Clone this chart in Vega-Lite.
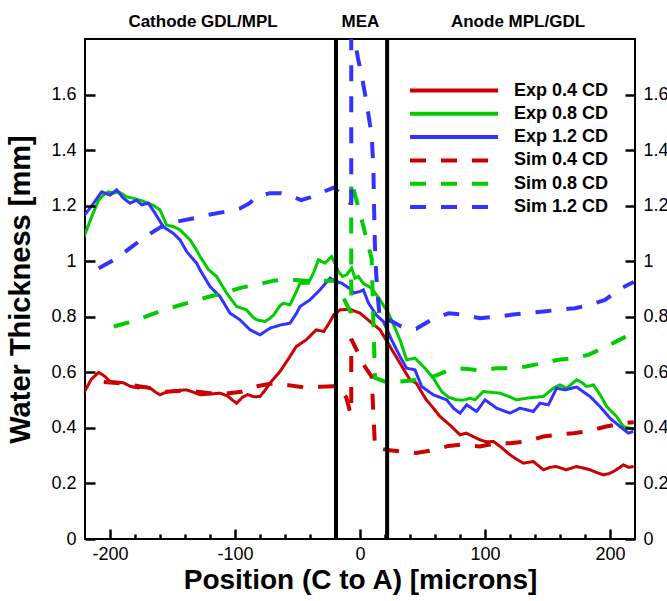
{
  "$schema": "https://vega.github.io/schema/vega-lite/v6.json",
  "width": 550,
  "height": 500,
  "autosize": {"type": "none"},
  "padding": {"left": 85, "top": 39, "right": 32, "bottom": 62},
  "background": "white",
  "config": {
    "font": "Liberation Sans",
    "view": {"stroke": "black", "strokeWidth": 2},
    "axis": {
      "grid": false, "domain": false, "labelFont": "Liberation Sans", "labelFontSize": 18,
      "labelColor": "black", "labelFlush": false,
      "labelOverlap": false, "titleFont": "Liberation Sans", "titleFontWeight": "bold", "titleColor": "black"
    },
    "legend": {
      "orient": "none", "legendX": 323, "legendY": 40, "title": null,
      "symbolType": "stroke", "symbolSize": 7744, "symbolStrokeWidth": 4,
      "labelFont": "Liberation Sans", "labelFontWeight": "bold", "labelFontSize": 18, "labelColor": "black",
      "labelOffset": 14, "clipHeight": 23, "rowPadding": 0.3
    }
  },
  "datasets": {
    "exp": [
      {"series":"Exp 0.4 CD","position":-221,"thickness":0.525},{"series":"Exp 0.4 CD","position":-215,"thickness":0.575},{"series":"Exp 0.4 CD","position":-209,"thickness":0.6},{"series":"Exp 0.4 CD","position":-204,"thickness":0.585},{"series":"Exp 0.4 CD","position":-200,"thickness":0.567},{"series":"Exp 0.4 CD","position":-194,"thickness":0.565},{"series":"Exp 0.4 CD","position":-189,"thickness":0.562},{"series":"Exp 0.4 CD","position":-184,"thickness":0.55},{"series":"Exp 0.4 CD","position":-178,"thickness":0.544},{"series":"Exp 0.4 CD","position":-172,"thickness":0.548},{"series":"Exp 0.4 CD","position":-168,"thickness":0.544},{"series":"Exp 0.4 CD","position":-164,"thickness":0.53},{"series":"Exp 0.4 CD","position":-160,"thickness":0.519},{"series":"Exp 0.4 CD","position":-156,"thickness":0.527},{"series":"Exp 0.4 CD","position":-152,"thickness":0.531},{"series":"Exp 0.4 CD","position":-145,"thickness":0.535},{"series":"Exp 0.4 CD","position":-139,"thickness":0.537},{"series":"Exp 0.4 CD","position":-133,"thickness":0.528},{"series":"Exp 0.4 CD","position":-128,"thickness":0.519},{"series":"Exp 0.4 CD","position":-120,"thickness":0.522},{"series":"Exp 0.4 CD","position":-112,"thickness":0.525},{"series":"Exp 0.4 CD","position":-106,"thickness":0.515},{"series":"Exp 0.4 CD","position":-102,"thickness":0.5},{"series":"Exp 0.4 CD","position":-98.7,"thickness":0.489},{"series":"Exp 0.4 CD","position":-94,"thickness":0.51},{"series":"Exp 0.4 CD","position":-90,"thickness":0.52},{"series":"Exp 0.4 CD","position":-85,"thickness":0.512},{"series":"Exp 0.4 CD","position":-80,"thickness":0.513},{"series":"Exp 0.4 CD","position":-76,"thickness":0.535},{"series":"Exp 0.4 CD","position":-72,"thickness":0.561},{"series":"Exp 0.4 CD","position":-64,"thickness":0.603},{"series":"Exp 0.4 CD","position":-57,"thickness":0.65},{"series":"Exp 0.4 CD","position":-51,"thickness":0.693},{"series":"Exp 0.4 CD","position":-43,"thickness":0.717},{"series":"Exp 0.4 CD","position":-35,"thickness":0.753},{"series":"Exp 0.4 CD","position":-29,"thickness":0.747},{"series":"Exp 0.4 CD","position":-25,"thickness":0.775},{"series":"Exp 0.4 CD","position":-21,"thickness":0.807},{"series":"Exp 0.4 CD","position":-16,"thickness":0.825},{"series":"Exp 0.4 CD","position":-8,"thickness":0.827},{"series":"Exp 0.4 CD","position":0,"thickness":0.813},{"series":"Exp 0.4 CD","position":8,"thickness":0.783},{"series":"Exp 0.4 CD","position":16,"thickness":0.753},{"series":"Exp 0.4 CD","position":24,"thickness":0.693},{"series":"Exp 0.4 CD","position":32,"thickness":0.633},{"series":"Exp 0.4 CD","position":40,"thickness":0.573},{"series":"Exp 0.4 CD","position":45,"thickness":0.561},{"series":"Exp 0.4 CD","position":53,"thickness":0.501},{"series":"Exp 0.4 CD","position":58,"thickness":0.475},{"series":"Exp 0.4 CD","position":64,"thickness":0.441},{"series":"Exp 0.4 CD","position":72,"thickness":0.41},{"series":"Exp 0.4 CD","position":80,"thickness":0.375},{"series":"Exp 0.4 CD","position":85,"thickness":0.381},{"series":"Exp 0.4 CD","position":90,"thickness":0.37},{"series":"Exp 0.4 CD","position":96,"thickness":0.357},{"series":"Exp 0.4 CD","position":101,"thickness":0.35},{"series":"Exp 0.4 CD","position":106.7,"thickness":0.351},{"series":"Exp 0.4 CD","position":113,"thickness":0.33},{"series":"Exp 0.4 CD","position":120,"thickness":0.303},{"series":"Exp 0.4 CD","position":126,"thickness":0.285},{"series":"Exp 0.4 CD","position":130.7,"thickness":0.273},{"series":"Exp 0.4 CD","position":138.7,"thickness":0.279},{"series":"Exp 0.4 CD","position":146.7,"thickness":0.249},{"series":"Exp 0.4 CD","position":152,"thickness":0.258},{"series":"Exp 0.4 CD","position":157,"thickness":0.261},{"series":"Exp 0.4 CD","position":165,"thickness":0.249},{"series":"Exp 0.4 CD","position":173,"thickness":0.261},{"series":"Exp 0.4 CD","position":179,"thickness":0.255},{"series":"Exp 0.4 CD","position":184,"thickness":0.249},{"series":"Exp 0.4 CD","position":189,"thickness":0.24},{"series":"Exp 0.4 CD","position":194.7,"thickness":0.231},{"series":"Exp 0.4 CD","position":199,"thickness":0.235},{"series":"Exp 0.4 CD","position":202.7,"thickness":0.243},{"series":"Exp 0.4 CD","position":207,"thickness":0.255},{"series":"Exp 0.4 CD","position":210.7,"thickness":0.267},{"series":"Exp 0.4 CD","position":215,"thickness":0.258},{"series":"Exp 0.4 CD","position":219,"thickness":0.261},
      {"series":"Exp 0.8 CD","position":-221,"thickness":1.086},{"series":"Exp 0.8 CD","position":-214.7,"thickness":1.16},{"series":"Exp 0.8 CD","position":-209,"thickness":1.22},{"series":"Exp 0.8 CD","position":-205,"thickness":1.24},{"series":"Exp 0.8 CD","position":-201,"thickness":1.25},{"series":"Exp 0.8 CD","position":-197,"thickness":1.245},{"series":"Exp 0.8 CD","position":-193,"thickness":1.25},{"series":"Exp 0.8 CD","position":-186.7,"thickness":1.232},{"series":"Exp 0.8 CD","position":-181,"thickness":1.226},{"series":"Exp 0.8 CD","position":-176,"thickness":1.22},{"series":"Exp 0.8 CD","position":-170,"thickness":1.21},{"series":"Exp 0.8 CD","position":-165,"thickness":1.2},{"series":"Exp 0.8 CD","position":-160,"thickness":1.185},{"series":"Exp 0.8 CD","position":-154.7,"thickness":1.13},{"series":"Exp 0.8 CD","position":-149,"thickness":1.124},{"series":"Exp 0.8 CD","position":-144,"thickness":1.113},{"series":"Exp 0.8 CD","position":-136,"thickness":1.077},{"series":"Exp 0.8 CD","position":-130.7,"thickness":1.04},{"series":"Exp 0.8 CD","position":-128,"thickness":1.017},{"series":"Exp 0.8 CD","position":-121,"thickness":0.969},{"series":"Exp 0.8 CD","position":-114.7,"thickness":0.945},{"series":"Exp 0.8 CD","position":-106.7,"thickness":0.885},{"series":"Exp 0.8 CD","position":-98.7,"thickness":0.837},{"series":"Exp 0.8 CD","position":-94,"thickness":0.83},{"series":"Exp 0.8 CD","position":-90.7,"thickness":0.825},{"series":"Exp 0.8 CD","position":-86,"thickness":0.8},{"series":"Exp 0.8 CD","position":-82.7,"thickness":0.789},{"series":"Exp 0.8 CD","position":-76,"thickness":0.783},{"series":"Exp 0.8 CD","position":-72,"thickness":0.795},{"series":"Exp 0.8 CD","position":-69,"thickness":0.807},{"series":"Exp 0.8 CD","position":-64,"thickness":0.84},{"series":"Exp 0.8 CD","position":-61.3,"thickness":0.849},{"series":"Exp 0.8 CD","position":-56,"thickness":0.843},{"series":"Exp 0.8 CD","position":-52,"thickness":0.88},{"series":"Exp 0.8 CD","position":-48,"thickness":0.921},{"series":"Exp 0.8 CD","position":-41.3,"thickness":0.921},{"series":"Exp 0.8 CD","position":-37,"thickness":0.96},{"series":"Exp 0.8 CD","position":-33.3,"thickness":1.005},{"series":"Exp 0.8 CD","position":-28,"thickness":0.993},{"series":"Exp 0.8 CD","position":-22.7,"thickness":1.017},{"series":"Exp 0.8 CD","position":-20,"thickness":0.993},{"series":"Exp 0.8 CD","position":-17.3,"thickness":0.963},{"series":"Exp 0.8 CD","position":-14,"thickness":0.945},{"series":"Exp 0.8 CD","position":-10.7,"thickness":0.951},{"series":"Exp 0.8 CD","position":-6.7,"thickness":0.975},{"series":"Exp 0.8 CD","position":-4,"thickness":0.939},{"series":"Exp 0.8 CD","position":-1.3,"thickness":0.945},{"series":"Exp 0.8 CD","position":2.7,"thickness":0.92},{"series":"Exp 0.8 CD","position":9.3,"thickness":0.903},{"series":"Exp 0.8 CD","position":16,"thickness":0.861},{"series":"Exp 0.8 CD","position":22.7,"thickness":0.813},{"series":"Exp 0.8 CD","position":27,"thickness":0.77},{"series":"Exp 0.8 CD","position":32,"thickness":0.717},{"series":"Exp 0.8 CD","position":37.3,"thickness":0.645},{"series":"Exp 0.8 CD","position":44,"thickness":0.651},{"series":"Exp 0.8 CD","position":52,"thickness":0.615},{"series":"Exp 0.8 CD","position":58.7,"thickness":0.579},{"series":"Exp 0.8 CD","position":65.3,"thickness":0.531},{"series":"Exp 0.8 CD","position":71,"thickness":0.51},{"series":"Exp 0.8 CD","position":77.3,"thickness":0.501},{"series":"Exp 0.8 CD","position":83,"thickness":0.5},{"series":"Exp 0.8 CD","position":88,"thickness":0.507},{"series":"Exp 0.8 CD","position":92,"thickness":0.501},{"series":"Exp 0.8 CD","position":98.7,"thickness":0.531},{"series":"Exp 0.8 CD","position":105,"thickness":0.528},{"series":"Exp 0.8 CD","position":112,"thickness":0.525},{"series":"Exp 0.8 CD","position":118,"thickness":0.515},{"series":"Exp 0.8 CD","position":125.3,"thickness":0.501},{"series":"Exp 0.8 CD","position":133.3,"thickness":0.507},{"series":"Exp 0.8 CD","position":140,"thickness":0.51},{"series":"Exp 0.8 CD","position":146.7,"thickness":0.513},{"series":"Exp 0.8 CD","position":154.7,"thickness":0.543},{"series":"Exp 0.8 CD","position":160,"thickness":0.555},{"series":"Exp 0.8 CD","position":165.3,"thickness":0.543},{"series":"Exp 0.8 CD","position":173.3,"thickness":0.573},{"series":"Exp 0.8 CD","position":177,"thickness":0.565},{"series":"Exp 0.8 CD","position":181.3,"thickness":0.549},{"series":"Exp 0.8 CD","position":186.7,"thickness":0.555},{"series":"Exp 0.8 CD","position":192,"thickness":0.52},{"series":"Exp 0.8 CD","position":197.3,"thickness":0.477},{"series":"Exp 0.8 CD","position":205.3,"thickness":0.441},{"series":"Exp 0.8 CD","position":210.7,"thickness":0.405},{"series":"Exp 0.8 CD","position":216,"thickness":0.399},{"series":"Exp 0.8 CD","position":219,"thickness":0.395},
      {"series":"Exp 1.2 CD","position":-221.3,"thickness":1.16},{"series":"Exp 1.2 CD","position":-213.3,"thickness":1.208},{"series":"Exp 1.2 CD","position":-206.7,"thickness":1.25},{"series":"Exp 1.2 CD","position":-200,"thickness":1.238},{"series":"Exp 1.2 CD","position":-194.7,"thickness":1.257},{"series":"Exp 1.2 CD","position":-189.3,"thickness":1.227},{"series":"Exp 1.2 CD","position":-184,"thickness":1.209},{"series":"Exp 1.2 CD","position":-178.7,"thickness":1.22},{"series":"Exp 1.2 CD","position":-174.7,"thickness":1.203},{"series":"Exp 1.2 CD","position":-169.3,"thickness":1.209},{"series":"Exp 1.2 CD","position":-164,"thickness":1.173},{"series":"Exp 1.2 CD","position":-157.3,"thickness":1.124},{"series":"Exp 1.2 CD","position":-149.3,"thickness":1.1},{"series":"Exp 1.2 CD","position":-144,"thickness":1.077},{"series":"Exp 1.2 CD","position":-138.7,"thickness":1.035},{"series":"Exp 1.2 CD","position":-130.7,"thickness":0.993},{"series":"Exp 1.2 CD","position":-128,"thickness":0.969},{"series":"Exp 1.2 CD","position":-120,"thickness":0.909},{"series":"Exp 1.2 CD","position":-112,"thickness":0.873},{"series":"Exp 1.2 CD","position":-104,"thickness":0.813},{"series":"Exp 1.2 CD","position":-96,"thickness":0.789},{"series":"Exp 1.2 CD","position":-88,"thickness":0.753},{"series":"Exp 1.2 CD","position":-80,"thickness":0.735},{"series":"Exp 1.2 CD","position":-72,"thickness":0.759},{"series":"Exp 1.2 CD","position":-64,"thickness":0.77},{"series":"Exp 1.2 CD","position":-56,"thickness":0.777},{"series":"Exp 1.2 CD","position":-50.7,"thickness":0.813},{"series":"Exp 1.2 CD","position":-48,"thickness":0.837},{"series":"Exp 1.2 CD","position":-40,"thickness":0.861},{"series":"Exp 1.2 CD","position":-32,"thickness":0.897},{"series":"Exp 1.2 CD","position":-24,"thickness":0.939},{"series":"Exp 1.2 CD","position":-18.7,"thickness":0.927},{"series":"Exp 1.2 CD","position":-14.7,"thickness":0.921},{"series":"Exp 1.2 CD","position":-10.7,"thickness":0.909},{"series":"Exp 1.2 CD","position":-6.7,"thickness":0.897},{"series":"Exp 1.2 CD","position":-5.3,"thickness":0.885},{"series":"Exp 1.2 CD","position":0,"thickness":0.891},{"series":"Exp 1.2 CD","position":2.7,"thickness":0.897},{"series":"Exp 1.2 CD","position":6.7,"thickness":0.85},{"series":"Exp 1.2 CD","position":13.3,"thickness":0.805},{"series":"Exp 1.2 CD","position":18.7,"thickness":0.783},{"series":"Exp 1.2 CD","position":25.3,"thickness":0.717},{"series":"Exp 1.2 CD","position":32,"thickness":0.657},{"series":"Exp 1.2 CD","position":37.3,"thickness":0.615},{"series":"Exp 1.2 CD","position":44,"thickness":0.609},{"series":"Exp 1.2 CD","position":49.3,"thickness":0.549},{"series":"Exp 1.2 CD","position":58.7,"thickness":0.519},{"series":"Exp 1.2 CD","position":69.3,"thickness":0.501},{"series":"Exp 1.2 CD","position":75,"thickness":0.47},{"series":"Exp 1.2 CD","position":80,"thickness":0.453},{"series":"Exp 1.2 CD","position":85.3,"thickness":0.483},{"series":"Exp 1.2 CD","position":93.3,"thickness":0.459},{"series":"Exp 1.2 CD","position":100,"thickness":0.501},{"series":"Exp 1.2 CD","position":109.3,"thickness":0.471},{"series":"Exp 1.2 CD","position":120,"thickness":0.453},{"series":"Exp 1.2 CD","position":128,"thickness":0.471},{"series":"Exp 1.2 CD","position":138.7,"thickness":0.459},{"series":"Exp 1.2 CD","position":144,"thickness":0.489},{"series":"Exp 1.2 CD","position":150.7,"thickness":0.483},{"series":"Exp 1.2 CD","position":157.3,"thickness":0.543},{"series":"Exp 1.2 CD","position":164,"thickness":0.537},{"series":"Exp 1.2 CD","position":173.3,"thickness":0.547},{"series":"Exp 1.2 CD","position":184,"thickness":0.513},{"series":"Exp 1.2 CD","position":192,"thickness":0.477},{"series":"Exp 1.2 CD","position":200,"thickness":0.435},{"series":"Exp 1.2 CD","position":208,"thickness":0.405},{"series":"Exp 1.2 CD","position":214.7,"thickness":0.381},{"series":"Exp 1.2 CD","position":218.7,"thickness":0.387}
    ],
    "sim": [
      {"series":"Sim 0.4 CD","position":-205,"thickness":0.565},{"series":"Sim 0.4 CD","position":-190,"thickness":0.56},{"series":"Sim 0.4 CD","position":-170,"thickness":0.545},{"series":"Sim 0.4 CD","position":-155,"thickness":0.53},{"series":"Sim 0.4 CD","position":-138,"thickness":0.535},{"series":"Sim 0.4 CD","position":-120,"thickness":0.525},{"series":"Sim 0.4 CD","position":-105,"thickness":0.525},{"series":"Sim 0.4 CD","position":-95,"thickness":0.53},{"series":"Sim 0.4 CD","position":-83,"thickness":0.55},{"series":"Sim 0.4 CD","position":-70,"thickness":0.56},{"series":"Sim 0.4 CD","position":-56,"thickness":0.553},{"series":"Sim 0.4 CD","position":-44,"thickness":0.545},{"series":"Sim 0.4 CD","position":-32,"thickness":0.548},{"series":"Sim 0.4 CD","position":-19,"thickness":0.55},{"series":"Sim 0.4 CD","position":-11,"thickness":0.51},{"series":"Sim 0.4 CD","position":-7.5,"thickness":0.45},{"series":"Sim 0.4 CD","position":-7,"thickness":0.45},{"series":"Sim 0.4 CD","position":-7,"thickness":0.72},{"series":"Sim 0.4 CD","position":4,"thickness":0.62},{"series":"Sim 0.4 CD","position":9.3,"thickness":0.585},{"series":"Sim 0.4 CD","position":12,"thickness":0.33},{"series":"Sim 0.4 CD","position":22,"thickness":0.32},{"series":"Sim 0.4 CD","position":34,"thickness":0.315},{"series":"Sim 0.4 CD","position":45,"thickness":0.31},{"series":"Sim 0.4 CD","position":58.7,"thickness":0.32},{"series":"Sim 0.4 CD","position":70.7,"thickness":0.335},{"series":"Sim 0.4 CD","position":82.7,"thickness":0.34},{"series":"Sim 0.4 CD","position":96,"thickness":0.333},{"series":"Sim 0.4 CD","position":109,"thickness":0.345},{"series":"Sim 0.4 CD","position":120,"thickness":0.345},{"series":"Sim 0.4 CD","position":133,"thickness":0.351},{"series":"Sim 0.4 CD","position":146.7,"thickness":0.369},{"series":"Sim 0.4 CD","position":157,"thickness":0.375},{"series":"Sim 0.4 CD","position":170.7,"thickness":0.381},{"series":"Sim 0.4 CD","position":181,"thickness":0.387},{"series":"Sim 0.4 CD","position":197,"thickness":0.405},{"series":"Sim 0.4 CD","position":210.7,"thickness":0.417},{"series":"Sim 0.4 CD","position":219,"thickness":0.42},
      {"series":"Sim 0.8 CD","position":-197,"thickness":0.765},{"series":"Sim 0.8 CD","position":-185,"thickness":0.78},{"series":"Sim 0.8 CD","position":-172,"thickness":0.8},{"series":"Sim 0.8 CD","position":-160,"thickness":0.82},{"series":"Sim 0.8 CD","position":-147,"thickness":0.838},{"series":"Sim 0.8 CD","position":-136,"thickness":0.852},{"series":"Sim 0.8 CD","position":-121,"thickness":0.872},{"series":"Sim 0.8 CD","position":-109,"thickness":0.885},{"series":"Sim 0.8 CD","position":-95,"thickness":0.905},{"series":"Sim 0.8 CD","position":-83,"thickness":0.915},{"series":"Sim 0.8 CD","position":-69,"thickness":0.93},{"series":"Sim 0.8 CD","position":-59,"thickness":0.935},{"series":"Sim 0.8 CD","position":-45,"thickness":0.93},{"series":"Sim 0.8 CD","position":-32,"thickness":0.93},{"series":"Sim 0.8 CD","position":-20,"thickness":0.93},{"series":"Sim 0.8 CD","position":-8,"thickness":0.82},{"series":"Sim 0.8 CD","position":-7,"thickness":0.82},{"series":"Sim 0.8 CD","position":-7,"thickness":1.29},{"series":"Sim 0.8 CD","position":1.3,"thickness":1.15},{"series":"Sim 0.8 CD","position":9.3,"thickness":1.01},{"series":"Sim 0.8 CD","position":12,"thickness":0.58},{"series":"Sim 0.8 CD","position":22,"thickness":0.563},{"series":"Sim 0.8 CD","position":33,"thickness":0.567},{"series":"Sim 0.8 CD","position":46.7,"thickness":0.573},{"series":"Sim 0.8 CD","position":58.7,"thickness":0.585},{"series":"Sim 0.8 CD","position":72,"thickness":0.609},{"series":"Sim 0.8 CD","position":82.7,"thickness":0.614},{"series":"Sim 0.8 CD","position":97,"thickness":0.606},{"series":"Sim 0.8 CD","position":109,"thickness":0.615},{"series":"Sim 0.8 CD","position":121,"thickness":0.615},{"series":"Sim 0.8 CD","position":133,"thickness":0.621},{"series":"Sim 0.8 CD","position":147,"thickness":0.634},{"series":"Sim 0.8 CD","position":158.7,"thickness":0.645},{"series":"Sim 0.8 CD","position":172,"thickness":0.652},{"series":"Sim 0.8 CD","position":182.7,"thickness":0.663},{"series":"Sim 0.8 CD","position":197,"thickness":0.693},{"series":"Sim 0.8 CD","position":210.7,"thickness":0.724},{"series":"Sim 0.8 CD","position":219,"thickness":0.745},
      {"series":"Sim 1.2 CD","position":-209,"thickness":0.975},{"series":"Sim 1.2 CD","position":-197,"thickness":1.005},{"series":"Sim 1.2 CD","position":-184,"thickness":1.047},{"series":"Sim 1.2 CD","position":-172,"thickness":1.088},{"series":"Sim 1.2 CD","position":-159,"thickness":1.124},{"series":"Sim 1.2 CD","position":-147,"thickness":1.142},{"series":"Sim 1.2 CD","position":-133,"thickness":1.155},{"series":"Sim 1.2 CD","position":-121,"thickness":1.167},{"series":"Sim 1.2 CD","position":-108,"thickness":1.178},{"series":"Sim 1.2 CD","position":-96,"thickness":1.19},{"series":"Sim 1.2 CD","position":-88,"thickness":1.21},{"series":"Sim 1.2 CD","position":-83,"thickness":1.232},{"series":"Sim 1.2 CD","position":-72,"thickness":1.245},{"series":"Sim 1.2 CD","position":-63,"thickness":1.245},{"series":"Sim 1.2 CD","position":-57,"thickness":1.238},{"series":"Sim 1.2 CD","position":-47,"thickness":1.22},{"series":"Sim 1.2 CD","position":-40,"thickness":1.23},{"series":"Sim 1.2 CD","position":-32,"thickness":1.245},{"series":"Sim 1.2 CD","position":-21,"thickness":1.265},{"series":"Sim 1.2 CD","position":-13,"thickness":1.232},{"series":"Sim 1.2 CD","position":-8,"thickness":1.21},{"series":"Sim 1.2 CD","position":-7,"thickness":1.21},{"series":"Sim 1.2 CD","position":-7,"thickness":1.87},{"series":"Sim 1.2 CD","position":-1.6,"thickness":1.73},{"series":"Sim 1.2 CD","position":1.3,"thickness":1.67},{"series":"Sim 1.2 CD","position":5.3,"thickness":1.57},{"series":"Sim 1.2 CD","position":9.3,"thickness":1.454},{"series":"Sim 1.2 CD","position":10.7,"thickness":1.34},{"series":"Sim 1.2 CD","position":11.2,"thickness":1.2},{"series":"Sim 1.2 CD","position":12,"thickness":1.05},{"series":"Sim 1.2 CD","position":13,"thickness":0.95},{"series":"Sim 1.2 CD","position":14.5,"thickness":0.86},{"series":"Sim 1.2 CD","position":16,"thickness":0.785},{"series":"Sim 1.2 CD","position":24,"thickness":0.787},{"series":"Sim 1.2 CD","position":33,"thickness":0.765},{"series":"Sim 1.2 CD","position":40,"thickness":0.755},{"series":"Sim 1.2 CD","position":45,"thickness":0.757},{"series":"Sim 1.2 CD","position":57,"thickness":0.789},{"series":"Sim 1.2 CD","position":71,"thickness":0.813},{"series":"Sim 1.2 CD","position":83,"thickness":0.807},{"series":"Sim 1.2 CD","position":96,"thickness":0.795},{"series":"Sim 1.2 CD","position":109,"thickness":0.8},{"series":"Sim 1.2 CD","position":121,"thickness":0.807},{"series":"Sim 1.2 CD","position":133,"thickness":0.813},{"series":"Sim 1.2 CD","position":147,"thickness":0.819},{"series":"Sim 1.2 CD","position":158.7,"thickness":0.825},{"series":"Sim 1.2 CD","position":172,"thickness":0.831},{"series":"Sim 1.2 CD","position":184,"thickness":0.843},{"series":"Sim 1.2 CD","position":196,"thickness":0.861},{"series":"Sim 1.2 CD","position":209,"thickness":0.903},{"series":"Sim 1.2 CD","position":219,"thickness":0.925}
    ]
  },
  "layer": [
    {
      "data": {"name": "exp"},
      "mark": {"type": "line", "strokeWidth": 3, "clip": true},
      "encoding": {
        "x": {"field": "position", "type": "quantitative",
              "scale": {"domain": [-220, 220], "nice": false, "zero": false},
              "axis": {"orient": "bottom", "values": [-200, -100, 0, 100, 200], "labelExpr": "'' + datum.value",
                       "tickSize": -10, "tickColor": "#000000", "tickWidth": 2.5, "zindex": 1, "labelPadding": 16, "title": "Position (C to A) [microns]",
                       "titleFontSize": 28, "titlePadding": 3}},
        "y": {"field": "thickness", "type": "quantitative",
              "scale": {"domain": [0, 1.8], "nice": false},
              "axis": {"orient": "left", "values": [0, 0.2, 0.4, 0.6, 0.8, 1, 1.2, 1.4, 1.6], "labelExpr": "'' + datum.value",
                       "tickSize": -10, "tickColor": "#000000", "tickWidth": 2.5, "zindex": 1, "labelPadding": 19, "title": "Water Thickness [mm]",
                       "titleFontSize": 29, "titlePadding": 15}},
        "color": {"field": "series", "type": "nominal",
                  "scale": {"domain": ["Exp 0.4 CD", "Exp 0.8 CD", "Exp 1.2 CD", "Sim 0.4 CD", "Sim 0.8 CD", "Sim 1.2 CD"],
                            "range": ["#CC0000", "#00CC00", "#3333FF", "#CC0000", "#00CC00", "#3333FF"]}},
        "strokeDash": {"field": "series", "type": "nominal",
                  "scale": {"domain": ["Exp 0.4 CD", "Exp 0.8 CD", "Exp 1.2 CD", "Sim 0.4 CD", "Sim 0.8 CD", "Sim 1.2 CD"],
                            "range": [[1, 0], [1, 0], [1, 0], [16, 15], [16, 15], [16, 15]]}},
        "order": {"value": null}
      }
    },
    {
      "data": {"name": "sim"},
      "mark": {"type": "line", "strokeWidth": 4, "clip": true},
      "encoding": {
        "x": {"field": "position", "type": "quantitative",
              "axis": {"orient": "bottom", "values": [-180, -160, -140, -120, -80, -60, -40, -20, 20, 40, 60, 80, 120, 140, 160, 180],
                       "labels": false, "tickSize": -5, "tickColor": "#000000", "tickWidth": 2.5, "zindex": 1, "title": null}},
        "y": {"field": "thickness", "type": "quantitative", "axis": null},
        "color": {"field": "series", "type": "nominal"},
        "strokeDash": {"field": "series", "type": "nominal"},
        "order": {"value": null}
      }
    },
    {
      "data": {"values": [{"boundary": -19.2, "low": 0, "high": 1.8}, {"boundary": 21.7, "low": 0, "high": 1.8}]},
      "mark": {"type": "rule", "color": "black", "strokeWidth": 4},
      "encoding": {
        "x": {"field": "boundary", "type": "quantitative",
              "axis": {"orient": "top", "values": [-126, 0, 126], "ticks": false, "labelPadding": 9,
                       "labelFontWeight": "bold", "labelFontSize": 17,
                       "labelExpr": "datum.value < -50 ? 'Cathode GDL/MPL' : (datum.value > 50 ? 'Anode MPL/GDL' : 'MEA')",
                       "title": null}},
        "y": {"field": "low", "type": "quantitative",
              "axis": {"orient": "right", "values": [0, 0.2, 0.4, 0.6, 0.8, 1, 1.2, 1.4, 1.6], "labelExpr": "'' + datum.value",
                       "tickSize": -10, "tickColor": "#000000", "tickWidth": 2.5, "zindex": 1, "labelPadding": 18, "title": null}},
        "y2": {"field": "high"}
      }
    }
  ],
  "resolve": {"axis": {"x": "independent", "y": "independent"}}
}
